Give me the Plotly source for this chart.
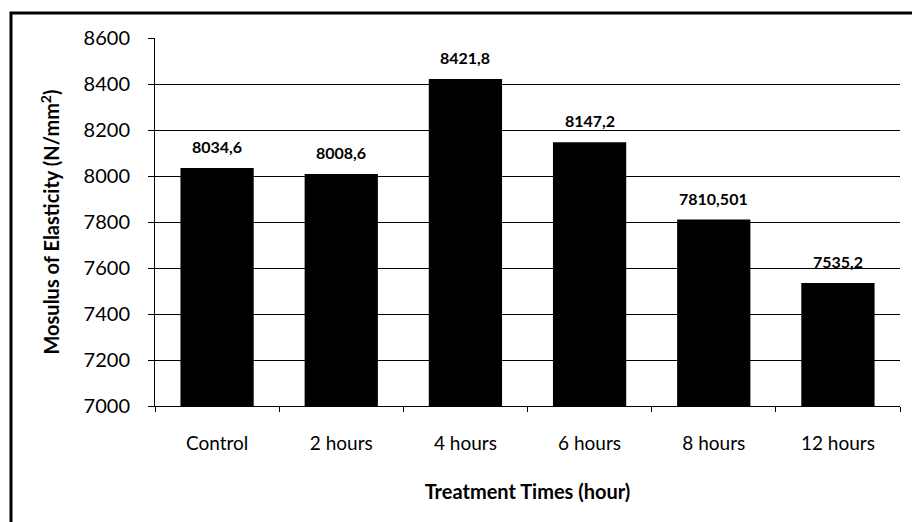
import plotly.graph_objects as go

categories = ["Control", "2 hours", "4 hours", "6 hours", "8 hours", "12 hours"]
values = [8034.6, 8008.6, 8421.8, 8147.2, 7810.501, 7535.2]
value_labels = ["8034,6", "8008,6", "8421,8", "8147,2", "7810,501", "7535,2"]
y_ticks = [7000, 7200, 7400, 7600, 7800, 8000, 8200, 8400, 8600]

FONT = "Lato, 'DejaVu Sans', sans-serif"

fig = go.Figure()
fig.add_trace(go.Bar(
    x=categories, y=values, marker=dict(color="black", line=dict(width=0)),
    width=0.59, showlegend=False, hoverinfo="x+y",
))

for c, v, t in zip(categories, values, value_labels):
    fig.add_annotation(x=c, y=v, text=t, showarrow=False, yanchor="bottom",
                       yshift=10, font=dict(family=FONT, size=16, color="black", weight="bold"))

fig.update_layout(
    width=912, height=522,
    margin=dict(l=155, r=12, t=38, b=116),
    paper_bgcolor="white", plot_bgcolor="white",
    font=dict(family=FONT, color="black"),
    bargap=0.41,
    shapes=[dict(type="rect", xref="paper", yref="paper",
                 x0=(11 - 155) / 745, x1=(925 - 155) / 745,
                 y0=(406 - 535) / 368, y1=(406 - 13) / 368,
                 line=dict(color="black", width=3), layer="below")],
)
fig.update_xaxes(
    showline=True, linecolor="black", linewidth=1,
    ticks="outside", ticklen=5, tickcolor="black", tickson="boundaries",
    ticklabelstandoff=20,
    tickfont=dict(family=FONT, size=19, color="black"),
    title=dict(text="Treatment Times (hour)", standoff=32,
               font=dict(family=FONT, size=20, color="black", weight="bold")),
    showgrid=False,
)
fig.update_yaxes(
    range=[7000, 8600], tickvals=y_ticks, ticktext=[str(v) for v in y_ticks],
    showline=True, linecolor="black", linewidth=1,
    ticks="outside", ticklen=6, tickcolor="black",
    ticklabelstandoff=14,
    showgrid=True, gridcolor="black", gridwidth=1,
    tickfont=dict(family=FONT, size=20, color="black"),
    title=dict(text="Mosulus of Elasticity (N/mm<sup>2</sup>)", standoff=18,
               font=dict(family=FONT, size=20, color="black", weight="bold")),
    zeroline=False,
)

fig.write_html("out.html", config={"displayModeBar": False},
               post_script="document.body.style.margin='0px';")
